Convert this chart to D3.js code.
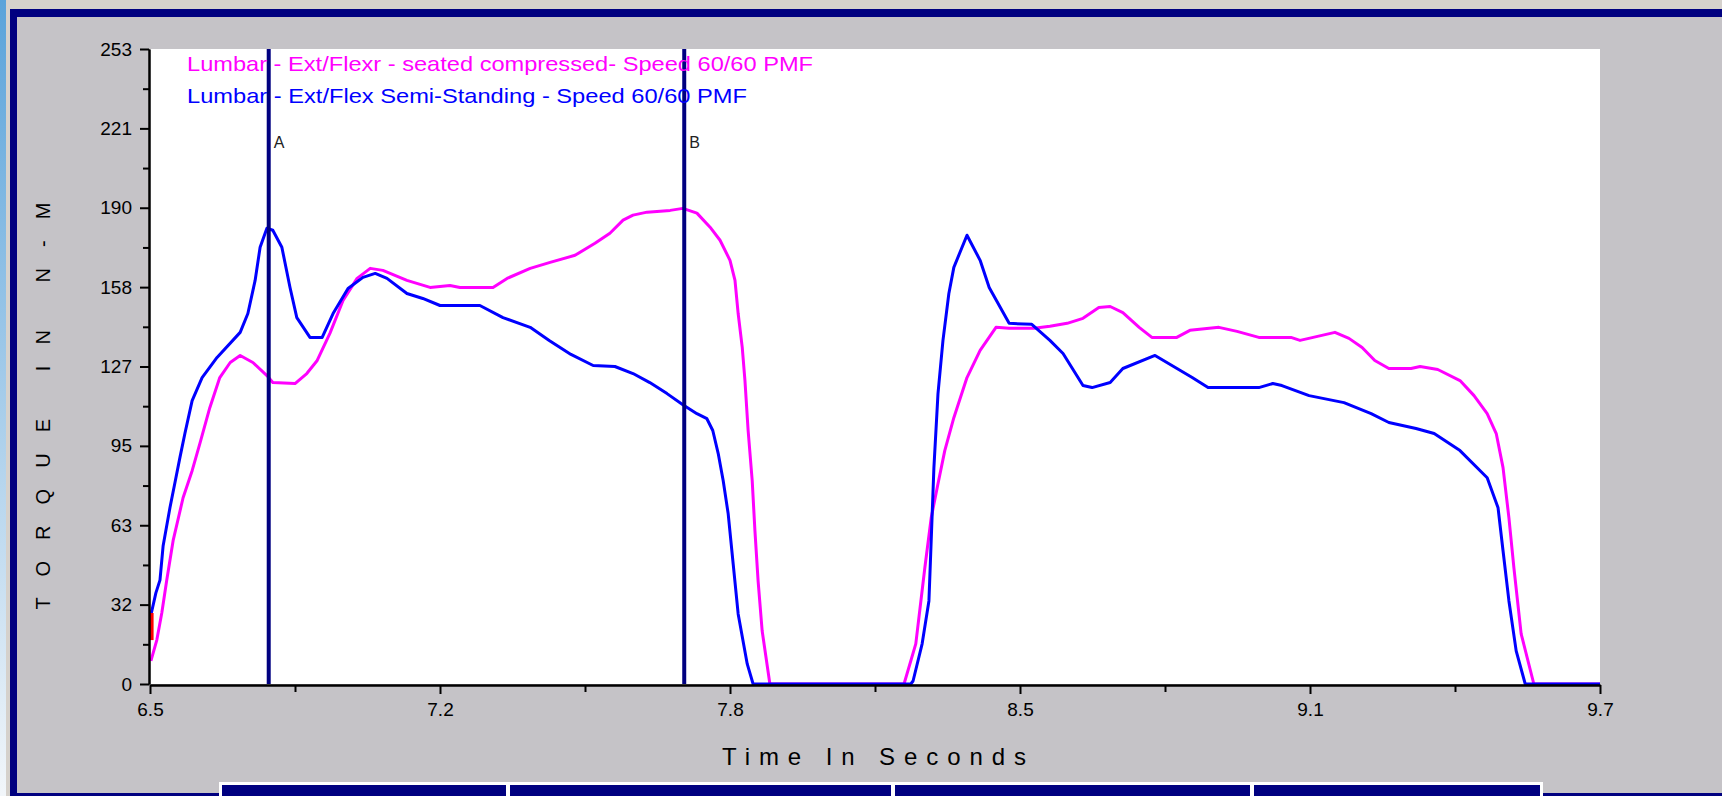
<!DOCTYPE html>
<html>
<head>
<meta charset="utf-8">
<script src="https://cdn.jsdelivr.net/npm/d3@7"></script>
<style>
    body { margin: 0; overflow: hidden; background: #d5d1cc; }
    #chart { width: 1722px; height: 796px; }
    text { font-family: "Liberation Sans", Arial, sans-serif; }
</style>
</head>
<body>
<div id="chart"></div>
<script>
// tick labels as printed on the original plot
const xTickLabels = ["6.5", "7.2", "7.8", "8.5", "9.1", "9.7"];
const yTickLabels = ["0", "32", "63", "95", "127", "158", "190", "221", "253"];
const timeDomain = [6.5, 9.7];
const torqueDomain = [0, 253];

const markerNames = ["A", "B"];
const markerTimes = [6.762, 7.679];

const seriesNames = [
    "Lumbar - Ext/Flexr - seated compressed- Speed 60/60 PMF",
    "Lumbar - Ext/Flex Semi-Standing - Speed 60/60 PMF"
];

// [time (s), torque (N-M)]
const seatedCompressed = [
    [6.502, 9.2], [6.515, 17.5], [6.526, 28.3], [6.537, 41.4], [6.551, 57.1], [6.573, 74.2],
    [6.593, 85.0], [6.610, 95.8], [6.632, 110.1], [6.654, 122.1], [6.677, 128.1], [6.699, 130.9],
    [6.727, 128.1], [6.758, 122.9], [6.771, 120.1], [6.820, 119.7], [6.846, 123.7], [6.869, 128.9],
    [6.897, 139.7], [6.926, 152.8], [6.957, 161.6], [6.986, 165.6], [7.014, 164.8], [7.067, 160.8],
    [7.118, 158.0], [7.162, 158.8], [7.184, 158.0], [7.257, 158.0], [7.288, 161.6], [7.339, 165.6],
    [7.383, 168.0], [7.438, 170.8], [7.482, 175.6], [7.515, 179.6], [7.544, 184.8], [7.566, 186.8],
    [7.597, 188.0], [7.648, 188.7], [7.676, 189.5], [7.707, 187.6], [7.736, 182.0], [7.758, 176.8],
    [7.780, 168.8], [7.791, 160.8], [7.798, 147.6], [7.807, 134.1], [7.813, 120.9], [7.820, 101.0],
    [7.829, 81.0], [7.835, 61.1], [7.842, 41.1], [7.851, 21.1], [7.868, 0], [8.164, 0],
    [8.166, 1.2], [8.190, 16.0], [8.210, 46.3], [8.224, 66.2], [8.239, 79.8], [8.254, 93.0],
    [8.274, 106.1], [8.303, 122.1], [8.332, 132.9], [8.367, 142.1], [8.396, 141.7], [8.451, 141.7],
    [8.486, 142.5], [8.524, 143.7], [8.559, 145.7], [8.594, 150.0], [8.619, 150.4], [8.647, 148.0],
    [8.683, 142.1], [8.711, 138.1], [8.766, 138.1], [8.795, 140.9], [8.859, 142.1], [8.899, 140.5],
    [8.947, 138.1], [9.018, 138.1], [9.038, 136.9], [9.067, 138.1], [9.115, 140.1], [9.146, 137.7],
    [9.175, 134.1], [9.203, 128.9], [9.234, 125.7], [9.283, 125.7], [9.303, 126.5], [9.342, 125.3],
    [9.391, 120.9], [9.422, 114.9], [9.451, 107.7], [9.471, 99.8], [9.486, 86.2], [9.499, 66.2],
    [9.510, 46.3], [9.526, 20.0], [9.554, 0], [9.700, 0]
];

const semiStanding = [
    [6.503, 28.3], [6.513, 36.3], [6.522, 41.4], [6.529, 55.1], [6.544, 70.2], [6.555, 80.2],
    [6.566, 90.2], [6.577, 99.8], [6.593, 112.9], [6.615, 122.1], [6.648, 130.1], [6.699, 140.1],
    [6.716, 147.6], [6.732, 160.8], [6.743, 174.0], [6.758, 181.6], [6.771, 180.8], [6.791, 174.0],
    [6.809, 158.0], [6.824, 146.0], [6.853, 138.1], [6.880, 138.1], [6.904, 147.6], [6.937, 157.6],
    [6.970, 162.0], [6.997, 163.6], [7.023, 161.6], [7.067, 155.6], [7.102, 153.6], [7.140, 150.8],
    [7.228, 150.8], [7.279, 146.0], [7.339, 142.1], [7.381, 136.9], [7.429, 131.3], [7.478, 126.9],
    [7.526, 126.5], [7.566, 123.7], [7.603, 120.1], [7.641, 115.7], [7.676, 111.3], [7.707, 107.7],
    [7.729, 105.7], [7.742, 101.0], [7.754, 91.8], [7.765, 81.0], [7.776, 67.8], [7.787, 47.9],
    [7.798, 27.9], [7.818, 8.0], [7.831, 0], [8.179, 0], [8.184, 1.2], [8.204, 16.0],
    [8.219, 33.1], [8.224, 57.1], [8.230, 86.2], [8.239, 115.7], [8.250, 136.9], [8.263, 155.6],
    [8.274, 166.0], [8.303, 178.8], [8.332, 168.8], [8.352, 158.0], [8.396, 143.7], [8.446, 143.3],
    [8.486, 136.9], [8.515, 131.7], [8.559, 118.9], [8.579, 118.1], [8.619, 120.1], [8.647, 125.7],
    [8.718, 130.9], [8.800, 122.1], [8.835, 118.1], [8.947, 118.1], [8.978, 119.7], [8.998, 118.9],
    [9.058, 114.9], [9.135, 112.1], [9.195, 107.7], [9.234, 104.2], [9.294, 101.8], [9.334, 99.8],
    [9.391, 93.0], [9.451, 82.2], [9.475, 70.2], [9.486, 53.1], [9.499, 33.1], [9.515, 13.2],
    [9.535, 0], [9.700, 0]
];

// small red start trace at the very first samples
const startTrace = [[6.5035, 17.5], [6.5035, 28.3]];

function render_chart(div) {
    let W = 1722, H = 796;
    let plot = {left: 150, right: 1600, top: 49, bottom: 684};

    let svg = d3.select("#" + div)
        .append("svg")
        .attr("width", W)
        .attr("height", H);

    // window frame
    let grad = svg.append("defs").append("linearGradient")
        .attr("id", "side")
        .attr("x1", 0).attr("y1", 0).attr("x2", 0).attr("y2", 1);
    grad.append("stop").attr("offset", "0%").attr("stop-color", "#5aa3da");
    grad.append("stop").attr("offset", "100%").attr("stop-color", "#f2f6fa");

    svg.append("rect").attr("x", 0).attr("y", 0).attr("width", W).attr("height", H).attr("fill", "#d5d1cc");
    svg.append("rect").attr("x", 0).attr("y", 0).attr("width", 6).attr("height", H).attr("fill", "url(#side)");
    svg.append("rect").attr("x", 10).attr("y", 9).attr("width", W - 10).attr("height", H - 9).attr("fill", "#000080");
    svg.append("rect").attr("x", 17).attr("y", 17).attr("width", W - 17).attr("height", 776).attr("fill", "#c5c3c7");

    // navy tab strip at the bottom edge
    let tabs = [[222, 506], [510, 891], [895, 1250], [1254, 1540]];
    svg.append("rect").attr("x", 219).attr("y", 782).attr("width", 1324).attr("height", 20).attr("fill", "#ffffff");
    svg.selectAll(".tab")
        .data(tabs)
        .enter()
        .append("rect")
        .attr("class", "tab")
        .attr("x", function(d) { return d[0]; })
        .attr("y", 785)
        .attr("width", function(d) { return d[1] - d[0]; })
        .attr("height", 20)
        .attr("fill", "#000080");

    svg.append("rect")
        .attr("x", plot.left).attr("y", plot.top)
        .attr("width", plot.right - plot.left).attr("height", plot.bottom - plot.top)
        .attr("fill", "#ffffff");

    let x = d3.scaleLinear().domain(timeDomain).range([plot.left, plot.right]);
    let y = d3.scaleLinear().domain(torqueDomain).range([plot.bottom, plot.top]);

    let xStep = (timeDomain[1] - timeDomain[0]) / (xTickLabels.length - 1);
    let xMajor = xTickLabels.map(function(d, i) { return timeDomain[0] + i * xStep; });
    let xMinor = xMajor.slice(1).map(function(d) { return d - xStep / 2; });
    let yStep = (torqueDomain[1] - torqueDomain[0]) / (yTickLabels.length - 1);
    let yMajor = yTickLabels.map(function(d, i) { return i * yStep; });
    let yMinor = yMajor.slice(1).map(function(d) { return d - yStep / 2; });

    let line = d3.line()
        .x(function(d) { return x(d[0]); })
        .y(function(d) { return y(d[1]); });

    let curves = svg.append("g")
        .attr("fill", "none")
        .attr("stroke-width", 3)
        .attr("stroke-linejoin", "round");
    curves.append("path").datum(seatedCompressed).attr("d", line).attr("stroke", "#ff00ff");
    curves.append("path").datum(semiStanding).attr("d", line).attr("stroke", "#0000ff");
    curves.append("path").datum(startTrace).attr("d", line).attr("stroke", "#ff0000").attr("stroke-width", 4);

    // cursor lines A / B
    svg.selectAll(".marker")
        .data(markerTimes)
        .enter()
        .append("line")
        .attr("class", "marker")
        .attr("x1", function(d) { return x(d); })
        .attr("x2", function(d) { return x(d); })
        .attr("y1", plot.top)
        .attr("y2", plot.bottom)
        .attr("stroke", "#000080")
        .attr("stroke-width", 4);

    svg.selectAll(".marker-label")
        .data(markerTimes)
        .enter()
        .append("text")
        .attr("class", "marker-label")
        .attr("x", function(d) { return x(d) + 5; })
        .attr("y", 148)
        .text(function(d, i) { return markerNames[i]; })
        .style("fill", "#222")
        .style("font-size", "16px");

    // legend
    let legendWidths = [626, 560];
    let legendColors = ["#ff00ff", "#0000ff"];
    svg.selectAll(".legend")
        .data(seriesNames)
        .enter()
        .append("text")
        .attr("class", "legend")
        .attr("x", 187)
        .attr("y", function(d, i) { return 71 + i * 32; })
        .attr("textLength", function(d, i) { return legendWidths[i]; })
        .attr("lengthAdjust", "spacingAndGlyphs")
        .text(function(d) { return d; })
        .style("fill", function(d, i) { return legendColors[i]; })
        .style("font-size", "21px");

    // axes
    let xAxis = svg.append("g")
        .attr("transform", "translate(0," + (plot.bottom + 1) + ")")
        .call(d3.axisBottom(x)
            .tickValues(xMajor)
            .tickSize(9)
            .tickSizeOuter(0)
            .tickPadding(9)
            .tickFormat(function(d, i) { return xTickLabels[i]; }));
    svg.append("g")
        .attr("transform", "translate(0," + (plot.bottom + 1) + ")")
        .call(d3.axisBottom(x).tickValues(xMinor).tickSize(7).tickSizeOuter(0).tickFormat(""));

    let yAxis = svg.append("g")
        .attr("transform", "translate(" + (plot.left - 1) + ",0)")
        .call(d3.axisLeft(y)
            .tickValues(yMajor)
            .tickSize(9)
            .tickSizeOuter(0)
            .tickPadding(8)
            .tickFormat(function(d, i) { return yTickLabels[i]; }));
    svg.append("g")
        .attr("transform", "translate(" + (plot.left - 1) + ",0)")
        .call(d3.axisLeft(y).tickValues(yMinor).tickSize(6).tickSizeOuter(0).tickFormat(""));

    svg.selectAll(".domain, .tick line")
        .attr("stroke", "#000")
        .attr("stroke-width", 2);
    svg.selectAll(".tick text")
        .style("font-size", "19px")
        .style("fill", "#000");

    // axis titles
    svg.append("text")
        .attr("x", 722)
        .attr("y", 765)
        .attr("textLength", 304)
        .attr("lengthAdjust", "spacing")
        .text("Time In Seconds")
        .style("font-size", "24px")
        .style("fill", "#000");

    svg.append("text")
        .attr("transform", "translate(50,406) rotate(-90)")
        .attr("text-anchor", "middle")
        .attr("textLength", 407)
        .attr("lengthAdjust", "spacing")
        .text("TORQUE IN N-M")
        .style("font-size", "20px")
        .style("fill", "#000");
}

render_chart("chart");
</script>
</body>
</html>
